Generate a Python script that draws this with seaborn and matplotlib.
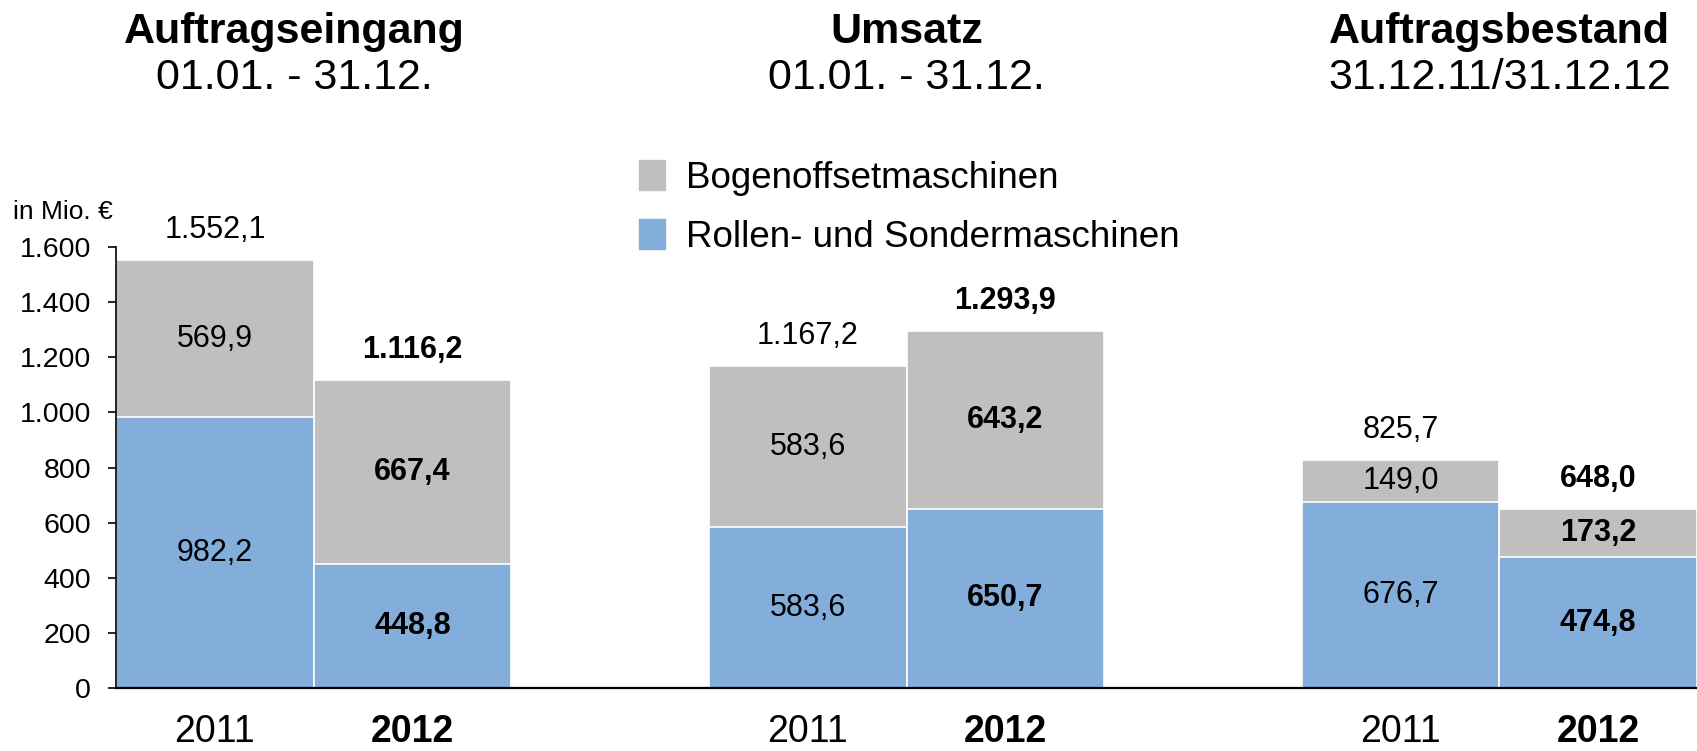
import matplotlib
matplotlib.use("Agg")
import matplotlib.pyplot as plt
import seaborn as sns
import pandas as pd

# Kennzahlen in Mio. EUR
groups = ["Auftragseingang", "Umsatz", "Auftragsbestand"]
periods = ["01.01. - 31.12.", "01.01. - 31.12.", "31.12.11/31.12.12"]
years = ["2011", "2012"]
rollen = [982.2, 448.8, 583.6, 650.7, 676.7, 474.8]
bogen = [569.9, 667.4, 583.6, 643.2, 149.0, 173.2]

GREY = "#BFBFBF"
BLUE = "#83AEDC"


def de(v, dec=1):
    s = f"{v:,.{dec}f}"
    return s.replace(",", "X").replace(".", ",").replace("X", ".")


df = pd.DataFrame({
    "x": [3 * (i // 2) + i % 2 for i in range(len(rollen))],
    "year": years * len(groups),
    "rollen": rollen,
    "bogen": bogen,
})
df["total"] = df["rollen"] + df["bogen"]

sns.set_style("ticks")
plt.rcParams["font.family"] = ["Liberation Sans", "DejaVu Sans"]
plt.rcParams["text.color"] = "black"
plt.rcParams["xtick.color"] = "black"
plt.rcParams["ytick.color"] = "black"

fig, ax = plt.subplots(figsize=(16.97, 7.51), dpi=100)
fig.subplots_adjust(left=0.0684, right=1.0, bottom=0.0839, top=0.671)

sns.barplot(data=df, x="x", y="total", native_scale=True, color=GREY, saturation=1,
            width=1, errorbar=None, edgecolor="white", linewidth=1.2,
            label="Bogenoffsetmaschinen", ax=ax)
sns.barplot(data=df, x="x", y="rollen", native_scale=True, color=BLUE, saturation=1,
            width=1, errorbar=None, edgecolor="white", linewidth=1.2,
            label="Rollen- und Sondermaschinen", ax=ax)

for _, r in df.iterrows():
    w = "bold" if r["year"] == "2012" else "normal"
    ax.text(r["x"], r["rollen"] / 2, de(r["rollen"]), ha="center", va="center",
            fontsize=22, weight=w)
    ax.text(r["x"], r["rollen"] + r["bogen"] / 2, de(r["bogen"]), ha="center",
            va="center", fontsize=22, weight=w)
    ax.annotate(de(r["total"]), (r["x"], r["total"]), xytext=(0, 22),
                textcoords="offset points", ha="center", va="center",
                fontsize=22, weight=w, annotation_clip=False)

ax.set_xlim(-0.5, 7.5)
ax.set_ylim(0, 1600)
ax.set_yticks(range(0, 1601, 200))
ax.set_yticklabels([de(v, 0) for v in range(0, 1601, 200)], fontsize=20.5)
ax.set_xticks(df["x"])
ax.set_xticklabels(df["year"], fontsize=27)
for lab in ax.get_xticklabels():
    if lab.get_text() == "2012":
        lab.set_fontweight("bold")
ax.tick_params(axis="x", length=0, pad=19)
ax.tick_params(axis="y", length=6, width=1.2, pad=12, color="black")
ax.set_xlabel("")
ax.set_ylabel("")
sns.despine(ax=ax)
ax.spines["left"].set_linewidth(1.2)
ax.spines["bottom"].set_linewidth(1.6)
ax.spines["left"].set_color("black")
ax.spines["bottom"].set_color("black")

# Ueberschriften der drei Gruppen
title_x = [0.4, 3.5, 6.5]
for g, (name, per) in enumerate(zip(groups, periods)):
    xf = ax.transData.transform((title_x[g], 0))[0] / fig.bbox.width
    fig.text(xf, 0.957, name, ha="center", va="center", fontsize=31, weight="bold")
    fig.text(xf, 0.896, per, ha="center", va="center", fontsize=31)

fig.text(13 / 1697, 1 - 212 / 751, "in Mio. €", ha="left", va="center", fontsize=19)

handles, labels = ax.get_legend_handles_labels()
if ax.get_legend() is not None:
    ax.get_legend().remove()
fig.legend(handles, labels, loc="upper left", bbox_to_anchor=(638 / 1697, 1 - 159 / 751),
           frameon=False, fontsize=26.5, handlelength=0.8, handleheight=1.0,
           handletextpad=0.5, labelspacing=0.6, borderaxespad=0, borderpad=0)

fig.savefig("out.png", dpi=100)
